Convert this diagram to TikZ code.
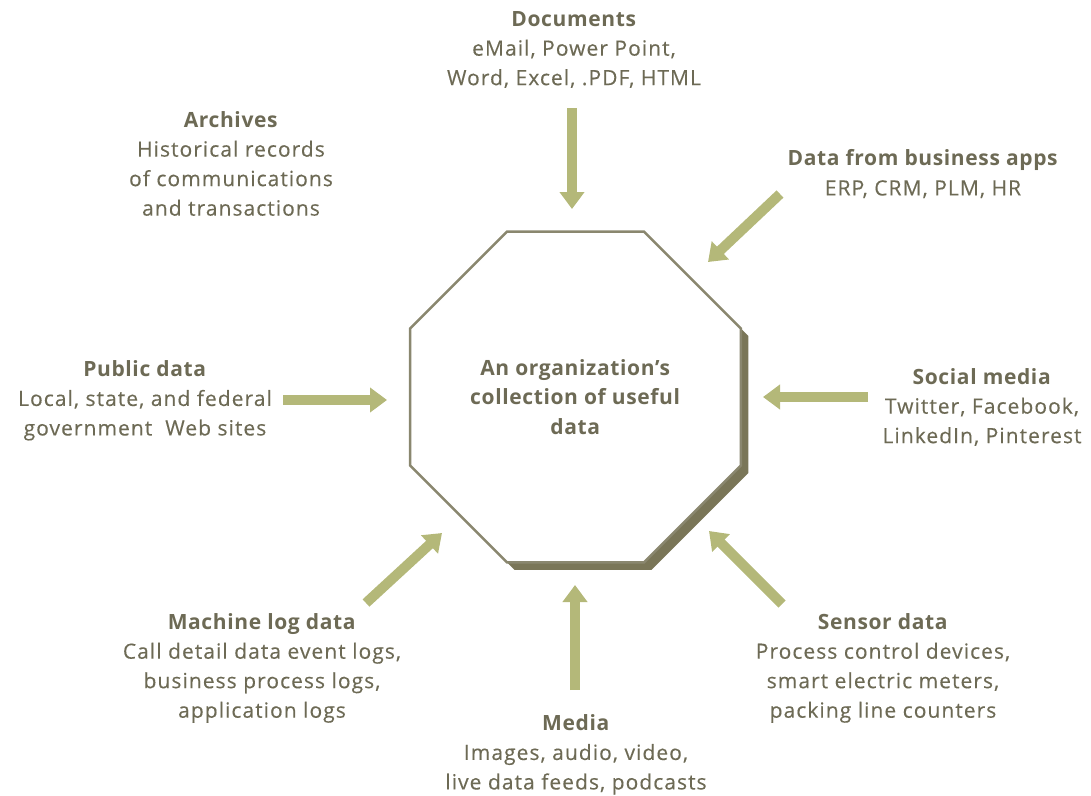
\documentclass[tikz,border=0pt]{standalone}
\usepackage{fontspec}
\setmainfont{Open Sans}[LetterSpace=5,UprightFeatures={FakeBold=0.3},BoldFeatures={LetterSpace=3}]
\usetikzlibrary{shapes.geometric,shadows,arrows.meta}
\definecolor{TextBrown}{HTML}{6D6A55}
\definecolor{ArrowGreen}{HTML}{B4B879}
\definecolor{FrameOlive}{HTML}{8A876F}
\definecolor{ShadowOlive}{HTML}{7A7658}

\begin{document}
\begin{tikzpicture}[x=1pt,y=-1pt,
    source/.style={align=center,text=TextBrown,inner sep=0pt,
      font=\fontsize{21}{29.5}\selectfont},
    feed/.style={draw=ArrowGreen,line width=10pt,
      -{Triangle[width=24pt,length=17pt]}}]
        \useasboundingbox (0,0) rectangle (1091,795);
        % the hub
        \node[regular polygon,regular polygon sides=8,minimum size=358pt,
          draw=FrameOlive,line width=2.5pt,fill=white,
          drop shadow={shadow xshift=7.5pt,shadow yshift=-7.5pt,fill=ShadowOlive,opacity=1},
          source] (hub) at (575.5,397) {\textbf{An organization's}\\\textbf{collection of useful}\\\textbf{data}};
        % the sources
        \node[source] (docs) at (574,49.5) {\textbf{Documents}\\eMail, Power Point,\\Word, Excel, .PDF, HTML};
        \node[source] (arch) at (231,163.5) {\textbf{Archives}\\Historical records\\of communications\\and transactions};
        \node[source] (apps) at (923,174) {\textbf{Data from business apps}\\ERP, CRM, PLM, HR};
        \node[source] (pub) at (145,400.5) {\textbf{Public data}\\Local, state, and federal\\government\ \ Web sites};
        \node[source] (soc) at (982,407) {\textbf{Social media}\\Twitter, Facebook,\\LinkedIn, Pinterest};
        \node[source] (mlog) at (262,668) {\textbf{Machine log data}\\Call detail data event logs,\\business process logs,\\application logs};
        \node[source] (med) at (576,754.5) {\textbf{Media}\\Images, audio, video,\\live data feeds, podcasts};
        \node[source] (sens) at (883,668) {\textbf{Sensor data}\\Process control devices,\\smart electric meters,\\packing line counters};
        % arrow ends
        \coordinate (docs-t) at (572,108);  \coordinate (docs-h) at (572,209);
        \coordinate (apps-t) at (780,194);  \coordinate (apps-h) at (708,262);
        \coordinate (pub-t) at (283,400);   \coordinate (pub-h) at (387,400);
        \coordinate (soc-t) at (868,397);   \coordinate (soc-h) at (763,397);
        \coordinate (mlog-t) at (366,603);  \coordinate (mlog-h) at (442,533);
        \coordinate (med-t) at (575,690);   \coordinate (med-h) at (575,585);
        \coordinate (sens-t) at (782,604);  \coordinate (sens-h) at (709,531);
        \draw[feed] (docs-t) -- (docs-h);
        \draw[feed] (apps-t) -- (apps-h);
        \draw[feed] (pub-t) -- (pub-h);
        \draw[feed] (soc-t) -- (soc-h);
        \draw[feed] (mlog-t) -- (mlog-h);
        \draw[feed] (med-t) -- (med-h);
        \draw[feed] (sens-t) -- (sens-h);
      \end{tikzpicture}
\end{document}
